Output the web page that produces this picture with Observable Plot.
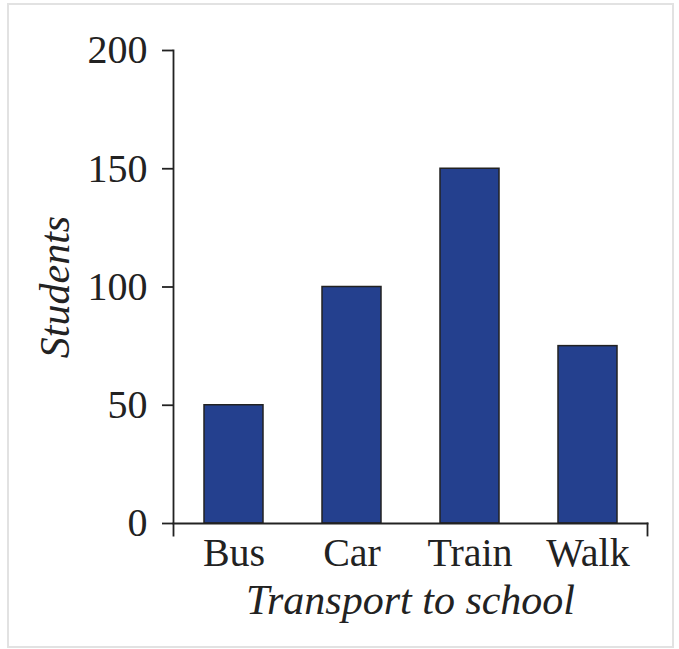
<!DOCTYPE html>
<html><head><meta charset="utf-8">
<script src="https://cdn.jsdelivr.net/npm/d3@7"></script>
<script src="https://cdn.jsdelivr.net/npm/@observablehq/plot@0.6"></script>
<style>
html,body{margin:0;padding:0;background:#fff;}
#wrap{position:relative;width:679px;height:649px;}
#border{position:absolute;left:7px;top:3px;width:663px;height:641px;border:2px solid #e2e2e2;}
#chart{position:absolute;left:0;top:0;}
</style></head><body>
<div id="wrap"><div id="border"></div><div id="chart"></div></div>
<script>
const categories = ["Bus", "Car", "Train", "Walk"];
const students = [50, 100, 150, 75];
const yTicks = [0, 50, 100, 150, 200];
const xTitle = "Transport to school";
const yTitle = "Students";

const data = categories.map((c, i) => ({category: c, students: students[i]}));
const W = 679, H = 649, mL = 173, mR = 32, mT = 50, mB = 126;
const innerH = H - mT - mB;
const plot = Plot.plot({
  width: W, height: H, marginLeft: mL, marginRight: mR, marginTop: mT, marginBottom: mB,
  style: {fontFamily: "'Liberation Serif', 'Times New Roman', serif", fontSize: "40px", color: "#222", background: "transparent"},
  x: {domain: categories, paddingInner: 0.5, paddingOuter: 0.25, label: null},
  y: {domain: [0, 200], label: null},
  marks: [
    Plot.barY(data, {x: "category", y: "students", fill: "#24408e", stroke: "#222", strokeWidth: 1.5}),
    Plot.axisY({ticks: yTicks, tickSize: 11, tickPadding: 15, strokeWidth: 1.8, label: null}),
    Plot.axisX({tickSize: 0, tickPadding: 14, label: null}),
    Plot.frame({anchor: "left", insetBottom: -12, strokeWidth: 1.8}),
    Plot.frame({anchor: "bottom", strokeWidth: 1.8}),
    Plot.frame({anchor: "right", insetTop: innerH, insetBottom: -12, strokeWidth: 1.8}),
    Plot.text([yTitle], {text: d => d, frameAnchor: "left", rotate: -90, dx: -118, textAnchor: "middle", fontStyle: "italic", fontSize: 42}),
    Plot.text([xTitle], {text: d => d, frameAnchor: "bottom", dy: 61, lineAnchor: "top", fontStyle: "italic", fontSize: 42})
  ]
});
document.getElementById("chart").appendChild(plot);
</script>
</body></html>
